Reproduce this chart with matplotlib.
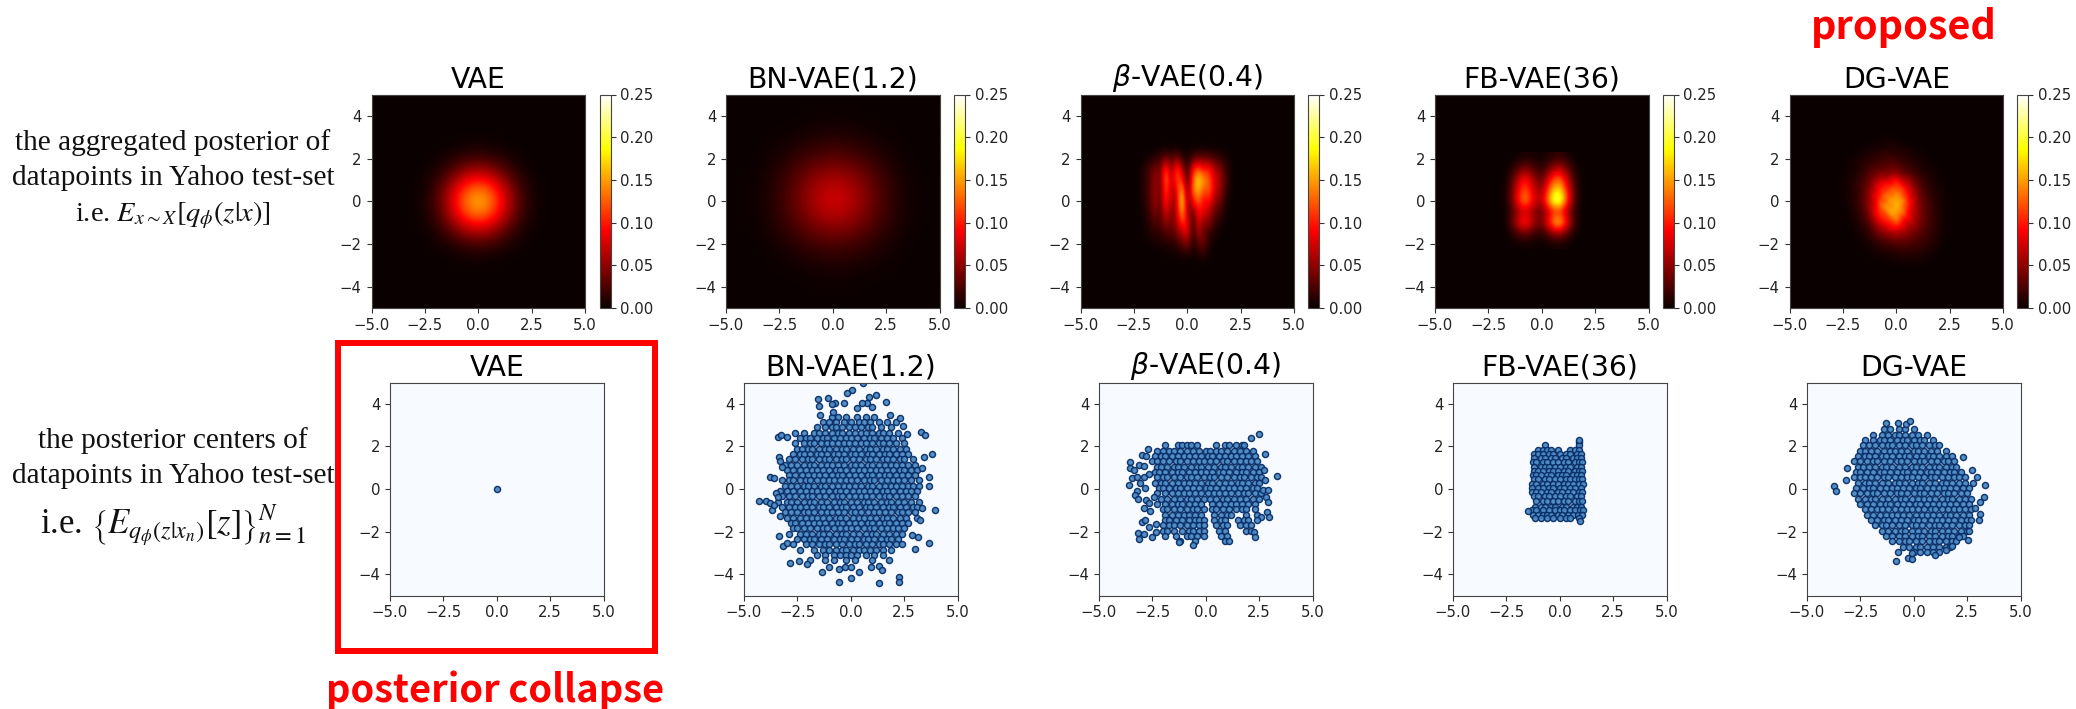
import numpy as np
import matplotlib
matplotlib.use('Agg')
import matplotlib.pyplot as plt
from matplotlib.patches import Rectangle

# values, heat grids are in thousandths
vae_heat_x = [-3, -2.5, -2, -1.5, -1, -0.5, 0, 0.5, 1, 1.5, 2, 2.5, 3]
vae_heat_y = [3, 2.5, 2, 1.5, 1, 0.5, 0, -0.5, -1, -1.5, -2, -2.5, -3]
vae_heat = [
    [0, 0, 0, 0, 1, 1, 2, 1, 1, 0, 0, 0, 0],
    [0, 0, 1, 2, 4, 6, 7, 6, 4, 2, 1, 0, 0],
    [0, 1, 3, 7, 14, 20, 23, 20, 14, 7, 3, 1, 0],
    [0, 2, 7, 18, 34, 50, 56, 50, 34, 18, 7, 2, 0],
    [1, 4, 14, 34, 62, 88, 98, 88, 62, 34, 14, 4, 1],
    [1, 6, 20, 50, 88, 124, 138, 124, 88, 50, 20, 6, 1],
    [2, 7, 23, 56, 98, 138, 155, 138, 98, 56, 23, 7, 2],
    [1, 6, 20, 50, 88, 124, 138, 124, 88, 50, 20, 6, 1],
    [1, 4, 14, 34, 62, 88, 98, 88, 62, 34, 14, 4, 1],
    [0, 2, 7, 18, 34, 50, 56, 50, 34, 18, 7, 2, 0],
    [0, 1, 3, 7, 14, 20, 23, 20, 14, 7, 3, 1, 0],
    [0, 0, 1, 2, 4, 6, 7, 6, 4, 2, 1, 0, 0],
    [0, 0, 0, 0, 1, 1, 2, 1, 1, 0, 0, 0, 0],
]

bn_heat_x = [-4, -3, -2, -1, 0, 1, 2, 3, 4]
bn_heat_y = [4, 3, 2, 1, 0, -1, -2, -3, -4]
bn_heat = [
    [0, 0, 0, 1, 1, 1, 0, 0, 0],
    [0, 1, 3, 6, 9, 7, 3, 1, 0],
    [0, 3, 11, 23, 30, 24, 12, 3, 0],
    [1, 6, 24, 49, 64, 52, 26, 7, 1],
    [1, 7, 28, 60, 82, 64, 31, 8, 1],
    [1, 6, 22, 44, 58, 47, 24, 7, 1],
    [0, 2, 9, 19, 25, 20, 10, 3, 0],
    [0, 1, 2, 5, 7, 6, 3, 1, 0],
    [0, 0, 0, 1, 1, 1, 0, 0, 0],
]

beta_heat_x = [-2.5, -2.25, -2, -1.75, -1.5, -1.25, -1, -0.75, -0.5, -0.25, 0,
               0.25, 0.5, 0.75, 1, 1.25, 1.5, 1.75, 2, 2.25, 2.5]
beta_heat_y = [2.5, 2, 1.5, 1, 0.5, 0, -0.5, -1, -1.5, -2, -2.5, -3]
beta_heat = [
    [0, 0, 0, 0, 0, 0, 0, 0, 0, 0, 0, 0, 0, 0, 0, 0, 0, 0, 0, 0, 0],
    [0, 0, 2, 5, 12, 18, 40, 22, 45, 15, 5, 25, 35, 35, 30, 25, 15, 8, 2, 0, 0],
    [0, 3, 10, 25, 45, 35, 125, 40, 120, 65, 10, 95, 125, 95, 105, 60, 50, 20, 5, 0, 0],
    [0, 3, 12, 25, 55, 35, 145, 60, 120, 105, 15, 125, 180, 150, 125, 80, 60, 25, 5, 0, 0],
    [0, 2, 12, 28, 55, 32, 125, 60, 80, 170, 25, 135, 165, 115, 130, 75, 55, 20, 4, 0, 0],
    [0, 2, 10, 25, 55, 30, 115, 50, 70, 195, 40, 90, 130, 85, 100, 50, 40, 12, 2, 0, 0],
    [0, 0, 8, 20, 45, 25, 85, 40, 65, 165, 60, 30, 95, 90, 60, 35, 22, 5, 0, 0, 0],
    [0, 0, 5, 12, 28, 22, 55, 35, 60, 115, 90, 10, 85, 40, 50, 18, 8, 2, 0, 0, 0],
    [0, 0, 2, 8, 12, 15, 25, 25, 40, 60, 85, 10, 60, 35, 15, 8, 2, 0, 0, 0, 0],
    [0, 0, 0, 2, 4, 6, 8, 10, 15, 30, 45, 8, 25, 40, 8, 2, 0, 0, 0, 0, 0],
    [0, 0, 0, 0, 0, 0, 2, 2, 3, 5, 5, 3, 8, 10, 2, 0, 0, 0, 0, 0, 0],
    [0, 0, 0, 0, 0, 0, 0, 0, 0, 0, 0, 0, 0, 0, 0, 0, 0, 0, 0, 0, 0],
]

fb_heat_x = [-2, -1.6, -1.2, -0.8, -0.4, 0, 0.4, 0.8, 1.2, 1.6, 2]
fb_heat_y = [2, 1.5, 1, 0.5, 0, -0.5, -1, -1.5, -2]
fb_heat = [
    [0, 0, 1, 6, 5, 3, 8, 15, 6, 0, 0],
    [0, 1, 20, 42, 24, 10, 38, 70, 32, 4, 0],
    [0, 4, 52, 105, 55, 25, 100, 140, 65, 8, 0],
    [0, 7, 72, 130, 72, 45, 140, 190, 92, 10, 0],
    [0, 7, 80, 160, 85, 60, 185, 250, 110, 10, 0],
    [0, 4, 42, 72, 45, 25, 80, 100, 50, 6, 0],
    [0, 6, 66, 120, 62, 35, 125, 195, 85, 7, 0],
    [0, 1, 20, 38, 18, 10, 38, 60, 24, 2, 0],
    [0, 0, 1, 3, 2, 0, 3, 5, 1, 0, 0],
]

dg_heat_x = [-3, -2.75, -2.5, -2.25, -2, -1.75, -1.5, -1.25, -1, -0.75, -0.5, -0.25, 0,
             0.25, 0.5, 0.75, 1, 1.25, 1.5, 1.75, 2, 2.25, 2.5, 2.75, 3]
dg_heat_y = [3, 2.75, 2.5, 2.25, 2, 1.75, 1.5, 1.25, 1, 0.75, 0.5, 0.25, 0,
             -0.25, -0.5, -0.75, -1, -1.25, -1.5, -1.75, -2, -2.25, -2.5, -2.75, -3, -3.25]
dg_heat = [
    [0, 0, 0, 0, 0, 0, 0, 1, 0, 2, 3, 1, 2, 0, 0, 0, 0, 0, 0, 0, 0, 0, 0, 0, 0],
    [0, 0, 0, 0, 0, 0, 1, 2, 3, 2, 4, 5, 3, 2, 1, 1, 0, 0, 0, 0, 0, 0, 0, 0, 0],
    [0, 0, 0, 0, 1, 2, 3, 2, 5, 8, 6, 10, 8, 5, 4, 2, 2, 1, 0, 0, 0, 0, 0, 0, 0],
    [0, 0, 0, 1, 2, 3, 6, 9, 7, 12, 15, 9, 11, 8, 9, 4, 3, 2, 1, 0, 0, 0, 0, 0, 0],
    [0, 0, 1, 2, 4, 5, 10, 8, 16, 14, 20, 22, 14, 15, 9, 8, 5, 4, 2, 1, 0, 0, 0, 0, 0],
    [0, 0, 1, 3, 5, 9, 12, 18, 15, 26, 22, 30, 24, 18, 15, 12, 7, 6, 3, 2, 1, 0, 0, 0, 0],
    [0, 0, 2, 3, 7, 8, 16, 22, 30, 27, 38, 32, 40, 26, 22, 14, 13, 7, 5, 3, 1, 0, 0, 0, 0],
    [0, 1, 2, 5, 6, 12, 20, 28, 38, 50, 42, 55, 48, 40, 30, 24, 15, 11, 7, 4, 2, 1, 0, 0, 0],
    [0, 1, 3, 4, 10, 14, 24, 42, 48, 70, 62, 85, 95, 60, 58, 36, 26, 14, 10, 6, 3, 1, 0, 0, 0],
    [0, 1, 3, 6, 9, 20, 28, 40, 72, 85, 110, 90, 120, 85, 70, 48, 30, 20, 12, 7, 4, 2, 0, 0, 0],
    [0, 1, 3, 5, 12, 16, 34, 52, 68, 110, 95, 140, 115, 130, 80, 66, 38, 22, 15, 9, 5, 2, 1, 0, 0],
    [0, 1, 2, 6, 10, 20, 30, 58, 90, 100, 150, 120, 160, 110, 105, 60, 44, 28, 16, 10, 6, 2, 1, 0, 0],
    [0, 0, 2, 5, 11, 18, 38, 50, 85, 125, 115, 170, 140, 165, 95, 85, 42, 32, 20, 11, 7, 3, 1, 0, 0],
    [0, 0, 2, 4, 9, 20, 30, 62, 78, 130, 160, 125, 180, 120, 115, 65, 50, 30, 22, 12, 6, 3, 1, 0, 0],
    [0, 0, 1, 4, 8, 14, 32, 45, 95, 105, 130, 175, 135, 155, 85, 75, 46, 36, 20, 14, 8, 3, 1, 0, 0],
    [0, 0, 1, 3, 7, 12, 22, 48, 70, 115, 100, 140, 150, 100, 105, 60, 52, 28, 24, 12, 7, 3, 1, 0, 0],
    [0, 0, 1, 2, 5, 10, 20, 32, 62, 75, 110, 95, 135, 90, 70, 68, 40, 34, 20, 14, 8, 3, 1, 0, 0],
    [0, 0, 0, 1, 4, 7, 14, 26, 40, 65, 60, 100, 80, 85, 55, 50, 42, 25, 22, 12, 6, 2, 1, 0, 0],
    [0, 0, 0, 1, 2, 5, 10, 16, 34, 38, 60, 50, 70, 48, 55, 36, 32, 26, 15, 12, 7, 2, 1, 0, 0],
    [0, 0, 0, 0, 1, 3, 6, 12, 18, 30, 28, 45, 36, 45, 32, 34, 22, 20, 16, 9, 5, 2, 0, 0, 0],
    [0, 0, 0, 0, 1, 2, 4, 7, 12, 14, 25, 20, 32, 24, 30, 20, 22, 14, 12, 8, 4, 1, 0, 0, 0],
    [0, 0, 0, 0, 0, 1, 2, 4, 6, 10, 9, 16, 14, 20, 15, 18, 11, 12, 7, 5, 2, 1, 0, 0, 0],
    [0, 0, 0, 0, 0, 0, 1, 2, 4, 4, 7, 6, 10, 8, 12, 9, 10, 6, 5, 2, 1, 0, 0, 0, 0],
    [0, 0, 0, 0, 0, 0, 0, 1, 1, 2, 3, 4, 4, 6, 5, 7, 4, 4, 2, 1, 0, 0, 0, 0, 0],
    [0, 0, 0, 0, 0, 0, 0, 0, 0, 1, 1, 1, 2, 2, 3, 2, 2, 1, 1, 0, 0, 0, 0, 0, 0],
    [0, 0, 0, 0, 0, 0, 0, 0, 0, 0, 0, 0, 0, 0, 0, 0, 0, 0, 0, 0, 0, 0, 0, 0, 0],
]

# posterior centers: one (y, [x values]) per row of dots
vae_rows = [(0.0, [0.0])]

bn_rows = [
    (3.4, [-0.9, -0.6, -0.2, 0.3, 0.7, 1.1]),
    (3.15, [-1.3, -1.0, -0.7, -0.3, 0.0, 0.4, 0.6, 0.9, 1.3, 1.7, 2.1]),
    (2.9, [-1.6, -1.2, -0.9, -0.7, -0.4, -0.1, 0.2, 0.5, 0.8, 1.0, 1.4, 1.9]),
    (2.65, [-2.6, -2.2, -1.7, -1.5, -1.2, -0.9, -0.6, -0.4, -0.1, 0.2, 0.5, 0.7, 1.0, 1.3, 1.5, 1.8, 2.2]),
    (2.4, [-2.4, -2.1, -1.9, -1.6, -1.3, -1.1, -0.8, -0.5, -0.2, 0.0, 0.3, 0.6, 0.9, 1.1, 1.4, 1.7, 2.0, 2.4]),
    (2.15, [-2.6, -2.2, -1.9, -1.7, -1.4, -1.1, -0.9, -0.6, -0.3, -0.1, 0.2, 0.5, 0.7, 1.0, 1.3, 1.5, 1.8, 2.1, 2.5]),
    (1.9, [-2.5, -2.3, -2.0, -1.8, -1.5, -1.2, -1.0, -0.7, -0.4, -0.2, 0.1, 0.4, 0.7, 0.9, 1.2, 1.5, 1.7, 2.0, 2.3, 2.6]),
    (1.65, [-2.7, -2.4, -2.2, -1.9, -1.6, -1.4, -1.1, -0.8, -0.6, -0.3, 0.0, 0.2, 0.5, 0.8, 1.0, 1.3, 1.6, 1.8, 2.1, 2.4, 2.7]),
    (1.4, [-2.9, -2.6, -2.3, -2.0, -1.8, -1.5, -1.2, -1.0, -0.7, -0.4, -0.2, 0.1, 0.4, 0.7, 0.9, 1.2, 1.5, 1.7, 2.0, 2.3, 2.5, 2.9]),
    (1.15, [-3.1, -2.8, -2.5, -2.2, -1.9, -1.7, -1.4, -1.1, -0.9, -0.6, -0.3, 0.0, 0.2, 0.5, 0.8, 1.0, 1.3, 1.6, 1.9, 2.1, 2.4, 2.7, 3.0]),
    (0.9, [-3.0, -2.7, -2.4, -2.1, -1.8, -1.6, -1.3, -1.0, -0.7, -0.5, -0.2, 0.1, 0.4, 0.6, 0.9, 1.2, 1.4, 1.7, 2.0, 2.3, 2.5, 2.8, 3.1]),
    (0.65, [-2.9, -2.6, -2.3, -2.0, -1.7, -1.5, -1.2, -0.9, -0.6, -0.4, -0.1, 0.2, 0.5, 0.8, 1.0, 1.3, 1.6, 1.8, 2.1, 2.4, 2.7, 3.0]),
    (0.4, [-3.2, -2.9, -2.7, -2.4, -2.1, -1.9, -1.6, -1.3, -1.0, -0.8, -0.5, -0.2, 0.0, 0.3, 0.6, 0.9, 1.1, 1.4, 1.7, 2.0, 2.2, 2.5, 2.8, 3.2]),
    (0.15, [-3.1, -2.8, -2.5, -2.2, -2.0, -1.7, -1.4, -1.2, -0.9, -0.6, -0.3, -0.1, 0.2, 0.5, 0.8, 1.0, 1.3, 1.6, 1.9, 2.1, 2.4, 2.7, 2.9, 3.2]),
    (-0.1, [-3.3, -3.0, -2.7, -2.4, -2.1, -1.8, -1.6, -1.3, -1.0, -0.7, -0.5, -0.2, 0.1, 0.4, 0.6, 0.9, 1.2, 1.5, 1.7, 2.0, 2.3, 2.6, 2.8, 3.1]),
    (-0.35, [-3.2, -2.9, -2.6, -2.3, -2.0, -1.8, -1.5, -1.2, -0.9, -0.6, -0.4, -0.1, 0.2, 0.5, 0.7, 1.0, 1.3, 1.6, 1.8, 2.1, 2.4, 2.7, 3.0]),
    (-0.6, [-3.4, -3.0, -2.8, -2.5, -2.2, -1.9, -1.7, -1.4, -1.1, -0.8, -0.5, -0.3, 0.0, 0.3, 0.6, 0.8, 1.1, 1.4, 1.7, 1.9, 2.2, 2.5, 2.8, 3.2]),
    (-0.85, [-3.2, -2.9, -2.6, -2.4, -2.1, -1.8, -1.5, -1.3, -1.0, -0.7, -0.4, -0.2, 0.1, 0.4, 0.7, 0.9, 1.2, 1.5, 1.8, 2.0, 2.3, 2.6, 2.9, 3.1]),
    (-1.1, [-3.1, -2.8, -2.5, -2.2, -2.0, -1.7, -1.4, -1.1, -0.9, -0.6, -0.3, 0.0, 0.2, 0.5, 0.8, 1.1, 1.3, 1.6, 1.9, 2.2, 2.4, 2.7, 3.0]),
    (-1.35, [-3.0, -2.7, -2.4, -2.1, -1.8, -1.6, -1.3, -1.0, -0.7, -0.5, -0.2, 0.1, 0.4, 0.6, 0.9, 1.2, 1.5, 1.7, 2.0, 2.3, 2.6, 3.1]),
    (-1.6, [-2.8, -2.6, -2.3, -2.0, -1.7, -1.5, -1.2, -0.9, -0.6, -0.4, -0.1, 0.2, 0.5, 0.8, 1.0, 1.3, 1.6, 1.8, 2.1, 2.4, 2.7]),
    (-1.85, [-2.7, -2.5, -2.2, -1.9, -1.6, -1.3, -1.1, -0.8, -0.5, -0.2, 0.0, 0.3, 0.6, 0.9, 1.1, 1.4, 1.7, 2.0, 2.2, 2.5]),
    (-2.1, [-2.9, -2.4, -2.1, -1.8, -1.5, -1.3, -1.0, -0.7, -0.4, -0.2, 0.1, 0.4, 0.7, 1.0, 1.2, 1.5, 1.8, 2.1, 2.4]),
    (-2.35, [-2.5, -2.2, -1.9, -1.7, -1.4, -1.1, -0.8, -0.5, -0.3, 0.0, 0.3, 0.6, 0.8, 1.1, 1.4, 1.7, 1.9, 2.2]),
    (-2.6, [-2.1, -1.8, -1.5, -1.2, -1.0, -0.7, -0.4, -0.1, 0.2, 0.4, 0.7, 1.0, 1.3, 1.5, 1.8, 2.1, 2.4]),
    (-2.85, [-2.4, -1.7, -1.3, -1.0, -0.7, -0.4, -0.2, 0.1, 0.4, 0.6, 0.9, 1.2, 1.5, 1.9]),
    (-3.1, [-1.6, -1.2, -0.8, -0.5, -0.2, 0.0, 0.3, 0.7, 1.1, 1.5]),
    (-3.35, [-1.9, -1.2, -0.8, -0.2, 0.2, 1.0, 1.8]),
]
bn_extra_x = [-4.29, -3.97, -3.79, -3.7, -3.6, -3.79, -3.58, -3.43, -3.27, -3.0, -3.35, -3.32, -3.24,
              -3.5, -3.4, -3.32, -3.35, -3.16, -2.97, -2.72, -2.85, -2.43, -2.07, -1.36, -1.0, -0.53,
              -0.55, -0.27, 0.03, 0.03, 0.39, 0.95, 1.3, 1.46, 1.3, 2.28, 2.28, 3.02, 3.15, 2.86, 3.68,
              3.96, 3.26, 3.33, 3.68, 3.68, 3.36, 3.41, 3.8, 3.29, 3.49, 2.63, 1.64, 1.19, 0.86, 0.59,
              0.05, -0.16, -0.31, -0.74, -1.08, -1.52, -1.47, -0.89, 0.75, 0.52, 0.99, 1.85, 2.32, 2.47,
              -1.44, -0.81, 0.28]
bn_extra_y = [-0.58, -0.55, -0.67, -0.99, -0.75, 0.58, 0.53, 2.43, 2.54, 2.43, 1.52, 1.33, 1.05,
              -0.2, -0.36, -1.27, -2.19, -2.68, -2.55, -2.58, -3.49, -3.38, -3.52, -3.88, -3.65, -3.77,
              -4.35, -3.65, -3.65, -4.18, -3.88, -3.65, -3.62, -3.8, -4.43, -4.12, -4.38, -2.82, -2.24, -2.16, -2.55,
              -0.99, -1.46, -0.91, 0.14, 0.58, 0.97, 1.49, 1.64, 2.69, 2.54, 2.57, 4.1, 4.41, 4.3, 4.96,
              4.65, 4.49, 4.05, 4.02, 4.29, 4.21, 3.9, 3.99, 4.02, 4.02, 3.87, 3.47, 3.32, 2.96,
              3.47, 3.63, 3.79]

beta_rows = [
    (2.05, [-1.9, -1.3, -1.1, -0.9, -0.7, -0.4, 0.5, 0.9, 1.1, 1.4, 1.7, 1.8]),
    (1.8, [-2.3, -2.0, -1.7, -1.5, -1.2, -0.9, -0.6, -0.3, 0.0, 0.2, 0.5, 0.7, 1.0, 1.3, 1.6, 1.9, 2.2]),
    (1.55, [-2.4, -2.1, -1.9, -1.6, -1.3, -1.0, -0.8, -0.5, -0.2, 0.1, 0.3, 0.6, 0.9, 1.2, 1.4, 1.7, 2.0, 2.3]),
    (1.3, [-2.5, -2.3, -2.0, -1.7, -1.4, -1.2, -0.9, -0.6, -0.3, -0.1, 0.2, 0.5, 0.8, 1.0, 1.3, 1.6, 1.9, 2.1, 2.4]),
    (1.05, [-2.3, -2.1, -1.8, -1.5, -1.3, -1.0, -0.7, -0.4, -0.2, 0.1, 0.4, 0.7, 0.9, 1.2, 1.5, 1.7, 2.0, 2.3, 2.6]),
    (0.8, [-2.4, -2.2, -1.9, -1.6, -1.3, -1.1, -0.8, -0.5, -0.2, 0.0, 0.3, 0.6, 0.8, 1.1, 1.4, 1.7, 1.9, 2.2, 2.5]),
    (0.55, [-2.3, -2.0, -1.8, -1.5, -1.2, -0.9, -0.7, -0.4, -0.1, 0.2, 0.4, 0.7, 1.0, 1.3, 1.6, 1.8, 2.1, 2.4, 2.6]),
    (0.3, [-2.4, -2.1, -1.9, -1.6, -1.3, -1.0, -0.8, -0.5, -0.2, 0.1, 0.3, 0.6, 0.9, 1.2, 1.5, 1.7, 2.0, 2.3, 2.5]),
    (0.05, [-2.2, -2.0, -1.7, -1.4, -1.2, -0.9, -0.6, -0.3, 0.0, 0.2, 0.5, 0.8, 1.1, 1.3, 1.6, 1.9, 2.2, 2.4]),
    (-0.2, [-2.3, -1.9, -1.6, -1.3, -1.0, -0.8, -0.5, -0.2, 0.1, 0.4, 0.6, 0.9, 1.2, 1.5, 1.8, 2.0, 2.3, 2.6]),
    (-0.45, [-2.1, -1.8, -1.5, -1.2, -0.9, -0.7, -0.4, -0.1, 0.2, 0.5, 0.8, 1.0, 1.3, 1.6, 1.9, 2.2, 2.5]),
    (-0.7, [-2.3, -1.9, -1.6, -1.3, -1.1, -0.8, -0.5, -0.2, 0.3, 0.6, 0.9, 1.2, 1.4, 1.7, 2.0, 2.3]),
    (-0.95, [-2.0, -1.8, -1.5, -1.2, -0.9, -0.6, -0.4, -0.1, 0.3, 0.5, 0.8, 1.1, 1.4, 1.7, 1.9, 2.3]),
    (-1.2, [-1.9, -1.6, -1.3, -1.0, -0.8, -0.5, -0.2, 0.4, 0.7, 1.0, 1.2, 1.9, 2.4]),
    (-1.45, [-1.9, -1.7, -1.4, -1.1, -0.8, -0.5, -0.3, -0.1, 0.4, 0.7, 0.9, 1.5, 1.8, 2.0]),
    (-1.7, [-2.0, -1.7, -1.5, -1.2, -0.9, -0.6, -0.3, -0.1, 0.5, 0.8, 1.0, 1.6, 1.9, 2.1]),
    (-1.95, [-2.0, -1.8, -1.5, -1.1, -0.8, -0.6, -0.3, -0.1, 0.6, 0.9, 1.9, 2.1]),
    (-2.2, [-1.9, -1.4, -0.9, -0.7, -0.4, -0.1, 0.7, 1.0]),
    (-2.45, [-1.2, -0.5, 0.9, 1.1]),
]
beta_extra_x = [-3.6, -3.53, -3.53, -3.37, -3.45, -3.22, -2.98, -3.14, -2.87, -2.72, -2.78, -2.9, -2.67,
                -3.06, -2.86, -3.22, -3.3, -3.18, -2.82, -2.67, -2.87, -2.59, -2.43, -2.98, -2.86, -2.32,
                -2.67, -3.17, -2.87, -3.12, -2.54, -2.32, 2.1, 2.5, 2.76, 3.36, 2.73, 2.76, 2.7, 2.92,
                2.83, 2.92, 2.86, 2.98, 2.57, 2.42, 2.26, 2.29, -0.62, -1.26]
beta_extra_y = [0.19, 1.28, 1.0, 0.89, 0.5, 0.58, 1.6, 1.13, 1.08, 1.88, 1.55, 0.58, 0.69,
                0.27, 0.06, -0.08, -0.28, -0.49, -0.52, -0.67, -0.91, -1.02, -0.36, -1.53, -1.47, -1.66,
                -1.77, -2.05, -2.11, -2.35, -2.24, -2.0, 2.38, 2.57, 1.64, 0.61, 0.89, 0.42, -0.05, -0.05,
                -0.36, -0.61, -1.06, -1.33, -1.3, -1.46, -2.0, -2.24, -2.64, -2.49]

fb_rows = [
    (2.2, [0.9]),
    (2.05, [-0.7, 0.9]),
    (1.85, [-1.0, -0.8, -0.6, -0.4, -0.1, 0.5, 0.7, 0.9]),
    (1.65, [-1.2, -1.0, -0.8, -0.5, -0.3, 0.0, 0.3, 0.5, 0.8, 1.0]),
    (1.45, [-1.2, -0.9, -0.7, -0.4, -0.2, 0.1, 0.3, 0.6, 0.8, 1.0]),
    (1.25, [-1.25, -1.1, -0.8, -0.6, -0.3, -0.1, 0.2, 0.4, 0.7, 0.9, 1.05]),
    (1.05, [-1.2, -0.9, -0.7, -0.5, -0.2, 0.0, 0.3, 0.5, 0.8, 1.0]),
    (0.85, [-1.2, -1.0, -0.8, -0.5, -0.3, -0.1, 0.2, 0.4, 0.7, 0.9, 1.05]),
    (0.65, [-1.25, -1.1, -0.9, -0.6, -0.4, -0.1, 0.1, 0.3, 0.6, 0.8, 1.0]),
    (0.45, [-1.2, -1.0, -0.7, -0.5, -0.2, 0.0, 0.3, 0.5, 0.7, 0.9, 1.05]),
    (0.25, [-1.3, -1.1, -0.8, -0.6, -0.3, -0.1, 0.2, 0.4, 0.6, 0.9, 1.1]),
    (0.05, [-1.3, -1.0, -0.8, -0.5, -0.3, 0.0, 0.2, 0.5, 0.7, 1.0]),
    (-0.15, [-1.3, -1.1, -0.9, -0.6, -0.4, -0.1, 0.1, 0.4, 0.6, 0.9, 1.05]),
    (-0.35, [-1.2, -1.0, -0.7, -0.5, -0.2, 0.0, 0.3, 0.5, 0.8, 1.0]),
    (-0.55, [-1.1, -0.8, -0.6, -0.3, -0.1, 0.2, 0.4, 0.7, 0.9, 1.05]),
    (-0.85, [-1.15, -0.9, -0.7, -0.4, -0.2, 0.1, 0.3, 0.6, 0.8, 1.0]),
    (-1.0, [-1.3, -1.1, -0.8, -0.5, -0.2, 0.0, 0.2, 0.5, 0.7, 0.95, 1.1]),
    (-1.2, [-1.25, -1.0, -0.8, -0.6, -0.4, -0.1, 0.1, 0.4, 0.6, 0.85, 1.05]),
    (-1.35, [-1.15, -0.9, -0.6, -0.3, 0.0, 0.3, 0.5, 0.9]),
]
fb_extra_x = [-1.5, 0.9, 0.95]
fb_extra_y = [-1.05, 2.3, -1.5]

dg_rows = [
    (2.8, [-1.4, -1.1, -0.7, -0.4, 0.0]),
    (2.55, [-1.9, -1.5, -1.2, -0.9, -0.7, -0.4, -0.1, 0.2, 0.6]),
    (2.3, [-2.3, -1.9, -1.6, -1.4, -1.1, -0.8, -0.5, -0.3, 0.0, 0.3, 0.5, 0.9]),
    (2.05, [-2.4, -2.1, -1.8, -1.5, -1.2, -1.0, -0.7, -0.4, -0.1, 0.1, 0.4, 0.7, 1.0, 1.2]),
    (1.8, [-2.5, -2.3, -2.0, -1.7, -1.4, -1.1, -0.9, -0.6, -0.3, 0.0, 0.2, 0.5, 0.8, 1.1, 1.5]),
    (1.55, [-2.6, -2.3, -2.1, -1.8, -1.5, -1.3, -1.0, -0.7, -0.4, -0.2, 0.1, 0.4, 0.7, 0.9, 1.2, 1.5, 1.8]),
    (1.3, [-2.8, -2.5, -2.2, -1.9, -1.7, -1.4, -1.1, -0.8, -0.6, -0.3, 0.0, 0.3, 0.5, 0.8, 1.1, 1.4, 1.6, 1.9]),
    (1.05, [-2.6, -2.4, -2.1, -1.8, -1.5, -1.3, -1.0, -0.7, -0.4, -0.1, 0.1, 0.4, 0.7, 1.0, 1.2, 1.5, 1.8, 2.0]),
    (0.8, [-2.7, -2.5, -2.2, -1.9, -1.6, -1.4, -1.1, -0.8, -0.5, -0.3, 0.0, 0.3, 0.6, 0.8, 1.1, 1.4, 1.7, 1.9, 2.2]),
    (0.55, [-2.8, -2.5, -2.3, -2.0, -1.7, -1.4, -1.2, -0.9, -0.6, -0.3, -0.1, 0.2, 0.5, 0.8, 1.0, 1.3, 1.6, 1.9, 2.1, 2.4]),
    (0.3, [-2.6, -2.3, -2.1, -1.8, -1.5, -1.2, -0.9, -0.7, -0.4, -0.1, 0.2, 0.4, 0.7, 1.0, 1.3, 1.5, 1.8, 2.1, 2.4]),
    (0.05, [-2.7, -2.4, -2.1, -1.9, -1.6, -1.3, -1.0, -0.8, -0.5, -0.2, 0.1, 0.3, 0.6, 0.9, 1.2, 1.4, 1.7, 2.0, 2.3, 2.6]),
    (-0.2, [-2.8, -2.5, -2.2, -1.9, -1.7, -1.4, -1.1, -0.8, -0.6, -0.3, 0.0, 0.3, 0.5, 0.8, 1.1, 1.4, 1.6, 1.9, 2.2, 2.5]),
    (-0.45, [-2.6, -2.3, -2.0, -1.8, -1.5, -1.2, -0.9, -0.6, -0.4, -0.1, 0.2, 0.5, 0.7, 1.0, 1.3, 1.6, 1.8, 2.1, 2.4, 2.7]),
    (-0.7, [-2.5, -2.2, -1.9, -1.6, -1.3, -1.1, -0.8, -0.5, -0.2, 0.1, 0.3, 0.6, 0.9, 1.2, 1.4, 1.7, 2.0, 2.3, 2.6]),
    (-0.95, [-2.3, -2.0, -1.7, -1.5, -1.2, -0.9, -0.6, -0.3, -0.1, 0.2, 0.5, 0.8, 1.0, 1.3, 1.6, 1.9, 2.1, 2.4, 2.7]),
    (-1.2, [-2.2, -1.9, -1.6, -1.3, -1.0, -0.8, -0.5, -0.2, 0.1, 0.4, 0.6, 0.9, 1.2, 1.5, 1.7, 2.0, 2.3, 2.6]),
    (-1.45, [-2.0, -1.7, -1.4, -1.2, -0.9, -0.6, -0.3, 0.0, 0.2, 0.5, 0.8, 1.1, 1.3, 1.6, 1.9, 2.2, 2.5, 2.7]),
    (-1.7, [-1.8, -1.5, -1.3, -1.0, -0.7, -0.4, -0.1, 0.1, 0.4, 0.7, 1.0, 1.2, 1.5, 1.8, 2.1, 2.4, 2.6]),
    (-1.95, [-1.5, -1.2, -0.9, -0.6, -0.4, -0.1, 0.2, 0.5, 0.8, 1.0, 1.3, 1.6, 1.9, 2.2, 2.5]),
    (-2.2, [-1.3, -1.0, -0.7, -0.4, -0.1, 0.2, 0.4, 0.7, 1.0, 1.3, 1.6, 1.8, 2.1, 2.3]),
    (-2.45, [-1.0, -0.7, -0.4, -0.2, 0.1, 0.4, 0.7, 1.0, 1.2, 1.5, 1.8, 2.0]),
    (-2.7, [-0.5, -0.2, 0.1, 0.3, 0.6, 0.9, 1.2, 1.5, 1.7]),
    (-2.95, [0.0, 0.3, 0.6, 0.9, 1.2]),
]
dg_extra_x = [-3.72, -3.64, -3.19, -3.11, -1.31, -0.73, -0.38, -0.18, 2.3, 2.73, 2.95, 3.35, 2.79, 3.29,
              3.09, 2.89, 3.09, 3.05, 2.59, 2.55, 2.1, -0.73, -0.81, -0.28, -0.08, -0.08, 1.0, 1.5, 1.8]
dg_extra_y = [0.14, -0.08, 0.41, 0.97, 3.11, 3.08, 3.05, 3.18, 1.49, 0.89, 0.58, 0.17, 0.27, -0.36,
              -0.59, -0.91, -1.17, -1.46, -1.96, -2.39, -2.24, -2.96, -3.38, -3.26, -3.3, -3.02, -3.1, -2.86, -2.68]

titles = ['VAE', 'BN-VAE(1.2)', r'$\beta$-VAE(0.4)', 'FB-VAE(36)', 'DG-VAE']
x_ticks = [-5, -2.5, 0, 2.5, 5]
y_ticks = [-4, -2, 0, 2, 4]
cbar_ticks = [0, 0.05, 0.1, 0.15, 0.2, 0.25]

W, H = 2076, 709


def box(fig, left, top, right, bottom):
    # axes from pixel edges of the picture
    return fig.add_axes([left / W, 1 - bottom / H, (right - left) / W, (bottom - top) / H])


def style(ax, title):
    ax.set_xlim(-5, 5)
    ax.set_ylim(-5, 5)
    ax.set_xticks(x_ticks)
    ax.set_xticklabels(['\u22125.0', '\u22122.5', '0.0', '2.5', '5.0'])
    ax.set_yticks(y_ticks)
    ax.tick_params(labelsize=10.7, color='#333333', labelcolor='#222222')
    for s in ax.spines.values():
        s.set_color('#444444')
    ax.set_title(title, fontsize=20.3, pad=5)


def heat_panel(fig, left, cbar_left, xs, ys, grid, title):
    ax = box(fig, left, 94.5, left + 213.5, 308)
    ax.set_facecolor(plt.cm.hot(0))
    dx = abs(xs[1] - xs[0]) / 2
    dy = abs(ys[1] - ys[0]) / 2
    im = ax.imshow(np.array(grid) / 1000, cmap='hot', vmin=0, vmax=0.25, aspect='auto',
                   interpolation='bicubic', extent=[xs[0] - dx, xs[-1] + dx, ys[-1] - dy, ys[0] + dy])
    style(ax, title)
    cax = box(fig, cbar_left, 94.5, cbar_left + 11, 308)
    cb = fig.colorbar(im, cax=cax, ticks=cbar_ticks, format='%.2f')
    cb.ax.tick_params(labelsize=10.7, color='#333333', labelcolor='#222222')
    cb.outline.set_edgecolor('#444444')


def dot_panel(fig, left, rows, extra_x, extra_y, title):
    ax = box(fig, left, 382.5, left + 213.5, 595.5)
    ax.set_facecolor('#f7fbff')
    px = [x for y, row in rows for x in row] + extra_x
    py = [y for y, row in rows for x in row] + extra_y
    ax.scatter(px, py, s=19, c='#4a88c2', edgecolors='#0a2f68', linewidths=1.05, alpha=0.95)
    style(ax, title)


fig = plt.figure(figsize=(W / 100, H / 100), dpi=100)

heat_panel(fig, 371.5, 599.5, vae_heat_x, vae_heat_y, vae_heat, titles[0])
heat_panel(fig, 726, 954, bn_heat_x, bn_heat_y, bn_heat, titles[1])
heat_panel(fig, 1080.5, 1308, beta_heat_x, beta_heat_y, beta_heat, titles[2])
heat_panel(fig, 1435, 1662.5, fb_heat_x, fb_heat_y, fb_heat, titles[3])
heat_panel(fig, 1789.5, 2017, dg_heat_x, dg_heat_y, dg_heat, titles[4])

dot_panel(fig, 390, vae_rows, [], [], titles[0])
dot_panel(fig, 744, bn_rows, bn_extra_x, bn_extra_y, titles[1])
dot_panel(fig, 1099, beta_rows, beta_extra_x, beta_extra_y, titles[2])
dot_panel(fig, 1453, fb_rows, fb_extra_x, fb_extra_y, titles[3])
dot_panel(fig, 1807, dg_rows, dg_extra_x, dg_extra_y, titles[4])

# captions on the left, serif with Cambria-like maths
left_lines = [
    (143, 'the aggregated posterior of', 21.2),
    (178, 'datapoints in Yahoo test-set', 21.2),
    (215, r'i.e. $E_{x\sim X}[q_\phi(z|x)]$', 20.5),
    (441, 'the posterior centers of', 21.2),
    (476, 'datapoints in Yahoo test-set', 21.2),
    (526, r'i.e. $\left\{E_{q_\phi(z|x_n)}[z]\right\}_{n=1}^{N}$', 25),
]
for py, line, size in left_lines:
    fig.text(173 / W, 1 - py / H, line, ha='center', va='center', fontsize=size,
             family='Liberation Serif', math_fontfamily='stix', color='#111111')

# red annotations
fig.add_artist(Rectangle((338 / W, 1 - 651 / H), 317 / W, 308 / H, transform=fig.transFigure,
                         fill=False, edgecolor='#ff0000', linewidth=4.3))
fig.text(495 / W, 1 - 690 / H, 'posterior collapse', ha='center', va='center', color='#ff0000',
         fontsize=27.4, fontweight='bold', family='Noto Sans CJK SC')
fig.text(1904 / W, 1 - 28 / H, 'proposed', ha='center', va='center', color='#ff0000',
         fontsize=28.5, fontweight='bold', family='Noto Sans CJK SC')

fig.savefig('out.png', dpi=100)
